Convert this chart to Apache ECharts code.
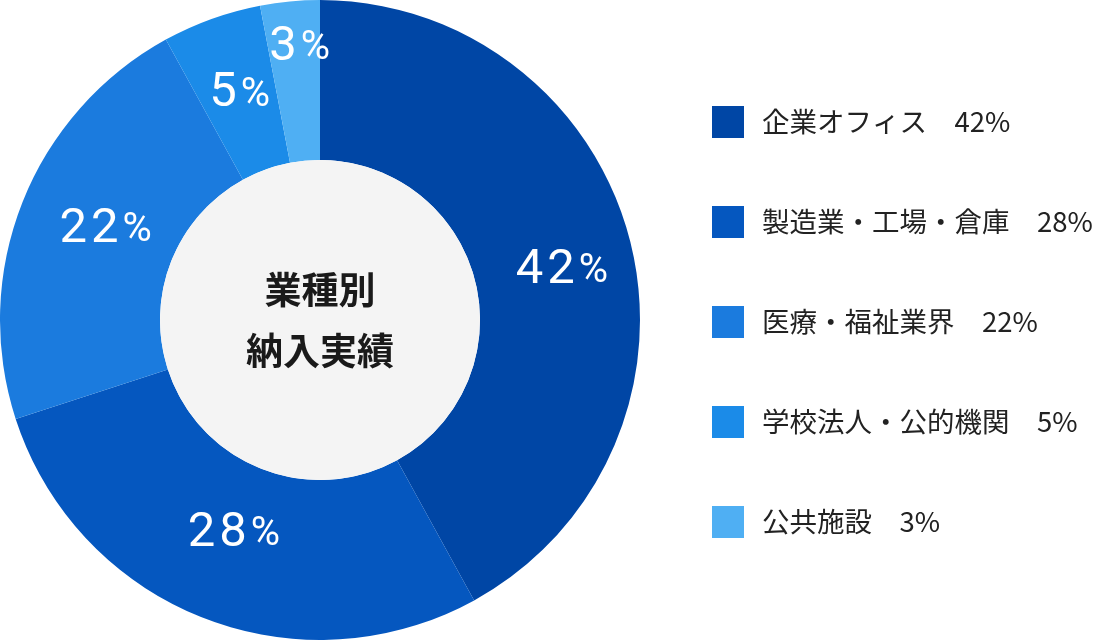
<!DOCTYPE html>
<html><head><meta charset="utf-8">
<script src="https://cdn.jsdelivr.net/npm/echarts@6/dist/echarts.min.js"></script>
<style>html,body{margin:0;padding:0;background:#fff}#c{width:1098px;height:640px}</style>
</head><body><div id="c"></div>
<script>
const categories = ['企業オフィス','製造業・工場・倉庫','医療・福祉業界','学校法人・公的機関','公共施設'];
const values = [42, 28, 22, 5, 3];
const colors = ['#0046A5','#0557BF','#1B7BDE','#1B8BE8','#4FAFF3'];
const centerTitle = ['業種別','納入実績'];

const chart = echarts.init(document.getElementById('c'));
const font = '"Noto Sans CJK JP","Noto Sans",sans-serif';
const numFont = 'Roboto, "Noto Sans", sans-serif';
// label nudges (styling only)
const labelNudge = [[5.5, 10.7], [2.3, -12.1], [10.5, -0.7], [1, 2.8], [1.6, -30.5]];
chart.setOption({
  animation: false,
  legend: {
    orient: 'vertical', left: 712, top: 106, padding: 0,
    itemWidth: 32, itemHeight: 32, itemGap: 68,
    icon: 'rect',
    data: categories,
    formatter: name => name + '　' + values[categories.indexOf(name)] + '%',
    textStyle: { fontSize: 27.5, color: '#222', fontFamily: font, padding: [0,0,0,13] },
    selectedMode: false
  },
  graphic: [{
    type: 'text', left: 240, top: 259,
    style: {
      text: centerTitle.join('\n'), fill: '#1a1a1a', fontSize: 37, fontWeight: 'bold',
      fontFamily: font, lineHeight: 61, textAlign: 'center', width: 160
    },
    silent: true, z: 100
  }],
  series: [{
    type: 'pie', center: [320, 320], radius: [160, 320],
    startAngle: 90, clockwise: true, silent: true,
    avoidLabelOverlap: false,
    labelLayout: { hideOverlap: false },
    color: colors,
    label: {
      show: true, position: 'inside',
      formatter: p => String(p.value).split('').map(d => '{n|' + d + '}').join('') + '{p|%}',
      rich: {
        n: { fontSize: 49, color: '#fff', fontFamily: numFont, padding: [0,2,0,2] },
        p: { fontSize: 40, color: '#fff', fontFamily: numFont, padding: [3,0,0,2] }
      }
    },
    labelLine: { show: false },
    itemStyle: { borderWidth: 0 },
    data: categories.map((c, i) => ({ name: c, value: values[i], label: { offset: labelNudge[i] } }))
  }, {
    type: 'pie', center: [320, 320], radius: [0, 160], silent: true,
    label: { show: false }, labelLine: { show: false },
    itemStyle: { color: '#f4f4f4' },
    data: [{ name: '_center', value: 1 }]
  }]
});
</script></body></html>
